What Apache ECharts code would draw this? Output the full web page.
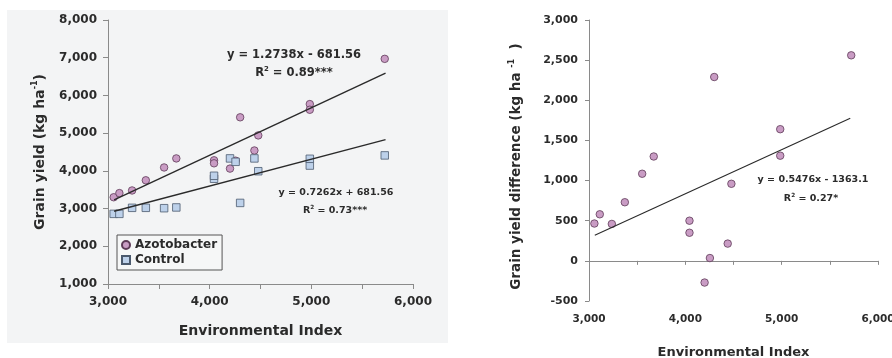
<!DOCTYPE html>
<html>
<head>
<meta charset="utf-8">
<title>Grain yield vs Environmental Index</title>
<script src="https://cdn.jsdelivr.net/npm/echarts@6/dist/echarts.min.js"></script>
<style>
    html, body { margin: 0; padding: 0; background: #fff; }
    #chart { width: 892px; height: 358px; }
</style>
</head>
<body>
<div id="chart"></div>
<script>
    // environmental index of each site (shared by both panels)
    var envIndex = [3056, 3112, 3237, 3372, 3552, 3672, 4043, 4043, 4200, 4255, 4300, 4440, 4478, 4985, 4985, 5722];
    // grain yield, kg/ha
    var azotobacter = [3300, 3410, 3480, 3750, 4090, 4330, 4280, 4200, 4060, 4270, 5420, 4540, 4940, 5770, 5620, 6970];
    var control = [2860, 2860, 3020, 3020, 3010, 3030, 3790, 3870, 4330, 4240, 3150, 4330, 3990, 4140, 4320, 4410];
    // azotobacter - control
    var yieldDiff = [465, 580, 460, 730, 1085, 1300, 500, 350, -270, 35, 2290, 215, 960, 1640, 1310, 2560];

    // regression line end points as drawn
    var azTrend = [[3060, 3230], [5730, 6590]];
    var controlTrend = [[3060, 2930], [5730, 4830]];
    var diffTrend = [[3060, 320], [5712, 1775]];

    var azLabel = ['y = 1.2738x - 681.56', '0.89***'];
    var controlLabel = ['y = 0.7262x + 681.56', '0.73***'];
    var diffLabel = ['y = 0.5476x - 1363.1', '0.27*'];

    var font = 'DejaVu Sans';
    var ink = '#2b2b2b';
    var axisGray = '#8a8a8a';

    function pairs(xs, ys) {
        var res = [];
        for (var i = 0; i < xs.length; i++) {
            res.push([xs[i], ys[i]]);
        }
        return res;
    }

    function thousands(step) {
        return function (val) {
            return val % step === 0 ? echarts.format.addCommas(val) : '';
        };
    }

    // x, y = centre of the text
    function eqText(x, y, line, size) {
        return {
            type: 'text', x: x, y: y,
            style: {
                text: line, font: 'bold ' + size + 'px "' + font + '"', fill: ink,
                textAlign: 'center', textVerticalAlign: 'middle'
            }
        };
    }

    function r2Text(x, y, val, size) {
        return {
            type: 'text', x: x, y: y,
            style: {
                text: '{t|R}{s|2}{t| = ' + val + '}',
                fill: ink, textAlign: 'center', textVerticalAlign: 'middle',
                rich: {
                    t: { fontFamily: font, fontWeight: 'bold', fontSize: size, lineHeight: size + 3, fill: ink },
                    s: { fontFamily: font, fontWeight: 'bold', fontSize: size * 0.6, lineHeight: size * 0.6, verticalAlign: 'top', fill: ink }
                }
            }
        };
    }

    var labelStyle = function (size, margin) {
        return { fontFamily: font, fontWeight: 'bold', fontSize: size, color: ink, margin: margin };
    };
    var nameStyle = function (size) {
        return {
            fontFamily: font, fontWeight: 'bold', fontSize: size, color: ink,
            rich: {
                t: { fontFamily: font, fontWeight: 'bold', fontSize: size, color: ink, lineHeight: size + 4 },
                s: { fontFamily: font, fontWeight: 'bold', fontSize: Math.round(size * 0.6), color: ink, lineHeight: 8, verticalAlign: 'top' }
            }
        };
    };

    var myChart = echarts.init(document.getElementById('chart'));

    myChart.setOption({
        backgroundColor: '#ffffff',
        animation: false,
        graphic: [
            { type: 'rect', left: 7, top: 10, z: -10, shape: { width: 441, height: 333 }, style: { fill: '#f3f4f5' } },
            eqText(294, 55, azLabel[0], 11.5),
            r2Text(294, 73, azLabel[1], 11.5),
            eqText(336, 193, controlLabel[0], 9.5),
            r2Text(335, 211, controlLabel[1], 9.5),
            eqText(813, 180, diffLabel[0], 9.5),
            r2Text(811, 199, diffLabel[1], 9.5)
        ],
        legend: {
            data: ['Azotobacter', 'Control'],
            orient: 'vertical',
            left: 117,
            top: 235,
            padding: [4, 5, 4, 4],
            itemGap: 3,
            itemWidth: 8,
            itemHeight: 8,
            borderColor: '#555',
            borderWidth: 1,
            backgroundColor: 'rgba(255,255,255,0.25)',
            textStyle: { fontFamily: font, fontWeight: 'bold', fontSize: 12, color: ink }
        },
        grid: [
            { left: 108, top: 20, width: 305, height: 264, outerBoundsMode: 'none', containLabel: false },
            { left: 589, top: 20, width: 289, height: 281, outerBoundsMode: 'none', containLabel: false }
        ],
        xAxis: [
            {
                gridIndex: 0, type: 'value', min: 3000, max: 6000, interval: 500,
                name: 'Environmental Index', nameLocation: 'middle', nameGap: 40,
                nameTextStyle: nameStyle(14),
                axisLine: { lineStyle: { color: axisGray } },
                axisTick: { length: 5, lineStyle: { color: axisGray } },
                axisLabel: Object.assign(labelStyle(12, 12), { formatter: thousands(1000) }),
                splitLine: { show: false }
            },
            {
                // line through zero with ticks
                gridIndex: 1, type: 'value', min: 3000, max: 6000, interval: 500, position: 'bottom',
                axisLine: { onZero: true, lineStyle: { color: axisGray } },
                axisTick: { length: 4, lineStyle: { color: axisGray } },
                axisLabel: { show: false },
                splitLine: { show: false }
            },
            {
                // labels along the bottom
                gridIndex: 1, type: 'value', min: 3000, max: 6000, interval: 1000, position: 'bottom',
                name: 'Environmental Index', nameLocation: 'middle', nameGap: 45,
                nameTextStyle: nameStyle(13),
                axisLine: { show: false, onZero: false },
                axisTick: { show: false },
                axisLabel: Object.assign(labelStyle(10.5, 13), { formatter: thousands(1000) }),
                splitLine: { show: false }
            }
        ],
        yAxis: [
            {
                gridIndex: 0, type: 'value', min: 1000, max: 8000, interval: 1000,
                name: '{t|Grain yield (kg ha}{s|-1}{t|)}', nameLocation: 'middle', nameGap: 59,
                nameTextStyle: nameStyle(14),
                axisLine: { show: true, lineStyle: { color: axisGray } },
                axisTick: { show: true, length: 5, lineStyle: { color: axisGray } },
                axisLabel: Object.assign(labelStyle(12, 11), { formatter: thousands(1000) }),
                splitLine: { show: false }
            },
            {
                gridIndex: 1, type: 'value', min: -500, max: 3000, interval: 500,
                name: '{t|Grain yield difference (kg ha }{s|-1}{t|  )}', nameLocation: 'middle', nameGap: 64,
                nameTextStyle: Object.assign(nameStyle(13.5), { padding: [0, 12, 0, 0] }),
                axisLine: { show: true, lineStyle: { color: axisGray } },
                axisTick: { show: true, length: 4, lineStyle: { color: axisGray } },
                axisLabel: Object.assign(labelStyle(11, 11), { formatter: thousands(500) }),
                splitLine: { show: false }
            }
        ],
        series: [
            {
                type: 'line', xAxisIndex: 0, yAxisIndex: 0, data: azTrend,
                symbol: 'none', silent: true, lineStyle: { color: '#2a2a2a', width: 1.4 }
            },
            {
                type: 'line', xAxisIndex: 0, yAxisIndex: 0, data: controlTrend,
                symbol: 'none', silent: true, lineStyle: { color: '#2a2a2a', width: 1.4 }
            },
            {
                name: 'Azotobacter', type: 'scatter', xAxisIndex: 0, yAxisIndex: 0,
                symbol: 'circle', symbolSize: 7.5,
                itemStyle: { color: '#c99cc4', borderColor: '#5e3b58', borderWidth: 0.8, opacity: 1 },
                data: pairs(envIndex, azotobacter)
            },
            {
                name: 'Control', type: 'scatter', xAxisIndex: 0, yAxisIndex: 0,
                symbol: 'rect', symbolSize: 7.5,
                itemStyle: { color: '#bdd1ea', borderColor: '#4b5a6e', borderWidth: 0.8, opacity: 1 },
                data: pairs(envIndex, control)
            },
            {
                type: 'line', xAxisIndex: 1, yAxisIndex: 1, data: diffTrend,
                symbol: 'none', silent: true, lineStyle: { color: '#2a2a2a', width: 1.1 }
            },
            {
                type: 'scatter', xAxisIndex: 1, yAxisIndex: 1,
                symbol: 'circle', symbolSize: 7.5,
                itemStyle: { color: '#c99cc4', borderColor: '#5e3b58', borderWidth: 0.8, opacity: 1 },
                data: pairs(envIndex, yieldDiff)
            }
        ]
    });
</script>
</body>
</html>
